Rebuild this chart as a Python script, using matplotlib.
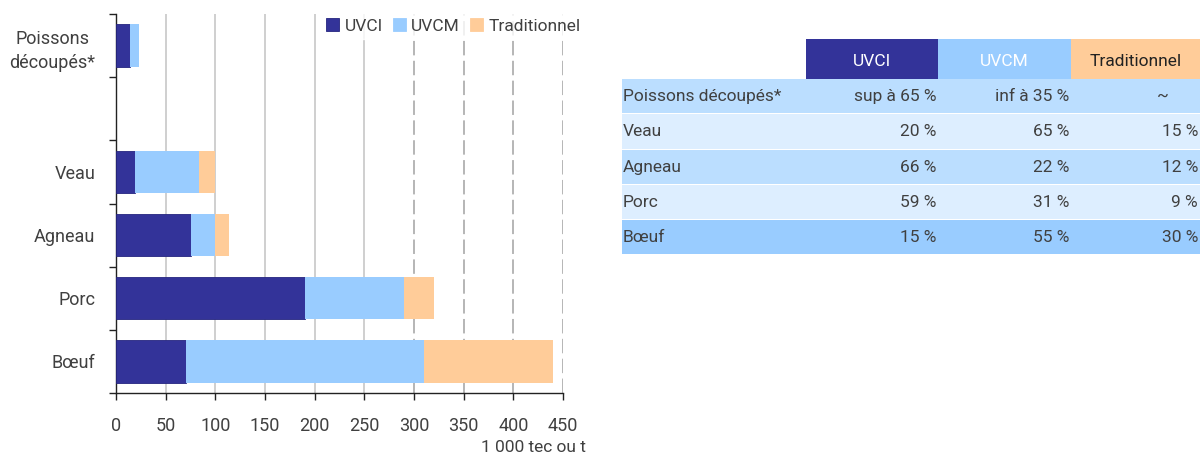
import matplotlib
matplotlib.use("Agg")
import matplotlib.pyplot as plt
from matplotlib.patches import Rectangle, Patch
import numpy as np

plt.rcParams['font.family'] = ['Roboto', 'DejaVu Sans']

# ---- data ----
categories = ['Poissons\ndécoupés*', '', 'Veau', 'Agneau', 'Porc', 'Bœuf']
uvci = [14, 0, 19, 76, 190, 70]
uvcm = [9, 0, 65, 24, 100, 240]
trad = [0, 0, 16, 14, 30, 130]
series_names = ['UVCI', 'UVCM', 'Traditionnel']
x_ticks = [0, 50, 100, 150, 200, 250, 300, 350, 400, 450]
x_unit = '1 000 tec ou t'

table_rows = ['Poissons découpés*', 'Veau', 'Agneau', 'Porc', 'Bœuf']
table_uvci = ['sup à 65 %', '20 %', '66 %', '59 %', '15 %']
table_uvcm = ['inf à 35 %', '65 %', '22 %', '31 %', '55 %']
table_trad = ['~', '15 %', '12 %', '9 %', '30 %']

c_uvci = '#333399'
c_uvcm = '#99ccff'
c_trad = '#ffcc99'
txt = '#404040'
fs = 12.5

W, H = 1201, 455
fig = plt.figure(figsize=(W / 100, H / 100), dpi=100)

# ---- bar chart ----
ax = fig.add_axes([116 / W, 1 - 393 / H, (563 - 116) / W, (393 - 14) / H])
y = np.arange(len(categories))
bh = 0.67
left = np.zeros(len(categories))
handles = []
for vals, col, name, ec in [(uvci, c_uvci, series_names[0], '#25257f'),
                            (uvcm, c_uvcm, series_names[1], 'none'),
                            (trad, c_trad, series_names[2], 'none')]:
    vals = np.array(vals, dtype=float)
    bars = ax.barh(y, vals, left=left, height=bh, color=col, edgecolor=ec,
                   linewidth=0.6, zorder=3)
    for b, v in zip(bars, vals):
        if v == 0:
            b.set_visible(False)
    left = left + vals
    handles.append(Patch(facecolor=col, edgecolor=ec if ec != 'none' else col,
                         linewidth=0.6, label=name))

ax.set_ylim(len(categories) - 0.5, -0.5)
ax.set_xlim(0, 450)
ax.set_yticks(y)
ax.set_yticklabels(categories, fontsize=13, color=txt, linespacing=1.45,
                   multialignment='center')
ax.tick_params(axis='y', which='major', length=0, pad=15)
ax.set_yticks(np.arange(-0.5, len(categories), 1), minor=True)
ax.tick_params(axis='y', which='minor', length=5, width=1, color='#222222', direction='out')
ax.set_xticks(x_ticks)
ax.set_xticklabels([str(v) for v in x_ticks], fontsize=13, color=txt)
ax.tick_params(axis='x', length=5, width=1, color='#222222', pad=12)

for v in x_ticks[1:]:
    if v <= 250:
        ax.axvline(v, color='#cccccc', lw=1.3, zorder=1)
    else:
        ax.axvline(v, color='#b0b0b0', lw=1.3, zorder=1, ls=(0, (8, 3)))

for s in ['top', 'right']:
    ax.spines[s].set_visible(False)
for s in ['left', 'bottom']:
    ax.spines[s].set_color('#222222')
    ax.spines[s].set_linewidth(1)

fig.text(586 / W, 1 - 447 / H, x_unit, ha='right', va='center', fontsize=fs, color=txt)

leg = fig.legend(handles=handles, loc='upper right', bbox_to_anchor=(586 / W, 1 - 13 / H), ncol=3,
                 frameon=True, fontsize=fs, handlelength=0.75, handleheight=0.75,
                 handletextpad=0.3, columnspacing=0.6, borderpad=0.3, borderaxespad=0)
leg.get_frame().set_facecolor('white')
leg.get_frame().set_edgecolor('white')
for t in leg.get_texts():
    t.set_color(txt)

# ---- table ----
tx = fig.add_axes([0, 0, 1, 1], facecolor='none')
tx.set_xlim(0, W)
tx.set_ylim(H, 0)
tx.axis('off')

col_edges = [622, 806, 938, 1071, 1200]
head_top, head_bot = 39, 79
row_edges = [79, 114, 150, 185, 220, 255]
row_cols = ['#bbdeff', '#ddeeff', '#bbdeff', '#ddeeff', '#99ccff']
head_cols = [c_uvci, c_uvcm, c_trad]
head_txt = ['white', 'white', '#222222']

for i, (hc, ht) in enumerate(zip(head_cols, head_txt)):
    x0, x1 = col_edges[i + 1], col_edges[i + 2]
    tx.add_patch(Rectangle((x0, head_top), x1 - x0, head_bot - head_top, color=hc, lw=0))
    tx.text((x0 + x1) / 2, (head_top + head_bot) / 2 + 2, series_names[i],
            ha='center', va='center', fontsize=fs, color=ht)

for r in range(len(table_rows)):
    y0, y1 = row_edges[r], row_edges[r + 1]
    tx.add_patch(Rectangle((col_edges[0], y0), col_edges[-1] - col_edges[0], y1 - y0 - 1,
                           color=row_cols[r], lw=0))
    yc = (y0 + y1) / 2
    tx.text(col_edges[0] + 1, yc, table_rows[r], ha='left', va='center', fontsize=fs, color=txt)
    tx.text(col_edges[2] - 2, yc, table_uvci[r], ha='right', va='center', fontsize=fs, color=txt)
    tx.text(col_edges[3] - 2, yc, table_uvcm[r], ha='right', va='center', fontsize=fs, color=txt)
    if table_trad[r] == '~':
        tx.text(1163, yc, table_trad[r], ha='center', va='center', fontsize=fs, color=txt)
    else:
        tx.text(col_edges[4] - 2, yc, table_trad[r], ha='right', va='center', fontsize=fs, color=txt)

fig.savefig('out.png', dpi=100)
